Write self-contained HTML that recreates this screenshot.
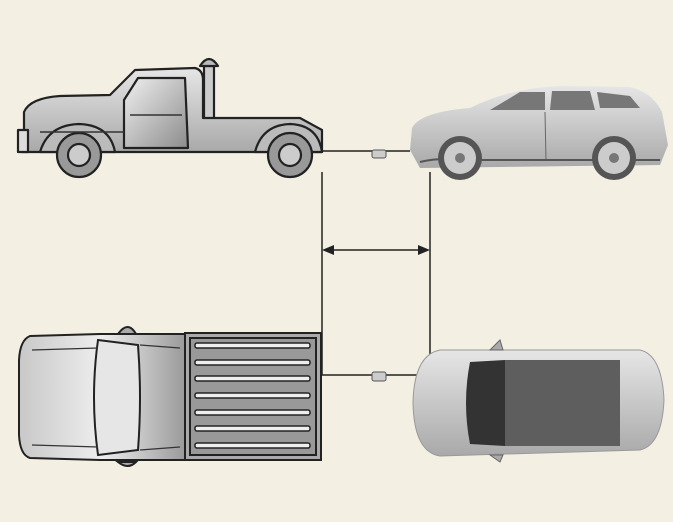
<!DOCTYPE html>
<html><head><style>html,body{margin:0;padding:0;background:#f3efe3}svg{display:block}</style></head>
<body>
<svg width="673" height="522" viewBox="0 0 673 522" xmlns="http://www.w3.org/2000/svg">
<defs>
<linearGradient id="g1" x1="0" y1="0" x2="0" y2="1"><stop offset="0" stop-color="#e6e6e6"/><stop offset="1" stop-color="#a9a9a9"/></linearGradient>
<linearGradient id="g2" x1="0" y1="0" x2="1" y2="0"><stop offset="0" stop-color="#c8c8c8"/><stop offset=".5" stop-color="#eee"/><stop offset="1" stop-color="#9a9a9a"/></linearGradient>
<linearGradient id="g3" x1="0" y1="0" x2="1" y2="1"><stop offset="0" stop-color="#f0f0f0"/><stop offset="1" stop-color="#8c8c8c"/></linearGradient>
</defs>
<rect width="673" height="522" fill="#f3efe3"/>
<!-- tow truck side -->
<g stroke="#222" stroke-width="2.2" stroke-linejoin="round">
<rect x="204" y="66" width="10" height="54" fill="#ccc"/>
<path d="M200 66 Q209 52 218 66 Z" fill="#bbb"/>
<path d="M24 135 L24 112 Q30 98 60 96 L110 95 L135 70 L195 68 Q203 70 203 80 L203 118 L300 118 L322 130 L322 152 L22 152 Z" fill="url(#g1)"/>
<rect x="18" y="130" width="10" height="22" fill="#ddd"/>
<path d="M124 100 L138 78 L185 78 L188 148 L124 148 Z" fill="url(#g3)"/>
<path d="M40 152 Q48 125 79 124 Q110 125 115 152 Z" fill="#bbb"/>
<path d="M255 152 Q262 125 290 124 Q318 125 322 152 Z" fill="#bbb"/>
<circle cx="79" cy="155" r="22" fill="#999"/><circle cx="79" cy="155" r="11" fill="#ccc"/>
<circle cx="290" cy="155" r="22" fill="#999"/><circle cx="290" cy="155" r="11" fill="#ccc"/>
</g>
<line x1="40" y1="132" x2="124" y2="132" stroke="#333" stroke-width="1.5"/>
<line x1="130" y1="115" x2="182" y2="115" stroke="#333" stroke-width="1.5"/>
<!-- connector top -->
<line x1="322" y1="151" x2="410" y2="151" stroke="#222" stroke-width="1.5"/>
<rect x="372" y="150" width="14" height="8" rx="2" fill="#ccc" stroke="#555"/>
<!-- SUV side -->
<path d="M412 128 Q420 112 470 108 Q510 88 560 86 L630 87 Q652 92 662 112 L668 145 L660 165 L420 168 L410 150 Z" fill="url(#g1)"/>
<path d="M490 110 L520 92 L545 92 L545 110 Z M550 110 L552 91 L590 91 L595 110 Z M600 108 L597 92 L630 96 L640 108 Z" fill="#777"/>
<line x1="545" y1="112" x2="546" y2="160" stroke="#666"/>
<path d="M420 162 Q440 157 470 160 L660 160" fill="none" stroke="#555" stroke-width="2"/>
<circle cx="460" cy="158" r="22" fill="#555"/><circle cx="460" cy="158" r="16" fill="#ccc"/><circle cx="460" cy="158" r="5" fill="#777"/>
<circle cx="614" cy="158" r="22" fill="#555"/><circle cx="614" cy="158" r="16" fill="#ccc"/><circle cx="614" cy="158" r="5" fill="#777"/>
<!-- dimension lines -->
<g stroke="#222" stroke-width="1.5">
<line x1="322" y1="172" x2="322" y2="375"/>
<line x1="430" y1="172" x2="430" y2="360"/>
<line x1="326" y1="250" x2="426" y2="250"/>
</g>
<path d="M322 250 L334 245 L334 255 Z M430 250 L418 245 L418 255 Z" fill="#222"/>
<!-- truck top -->
<g stroke="#222" stroke-width="2">
<path d="M118 462 Q128 470 136 462 Z" fill="#aaa"/>
<path d="M118 334 Q128 320 136 334 Z" fill="#aaa"/>
<path d="M30 336 Q20 340 19 360 L19 435 Q20 455 30 458 L100 460 L185 460 L185 334 L100 334 Z" fill="url(#g2)"/>
<path d="M98 340 L138 345 Q142 397 138 450 L98 455 Q90 397 98 340 Z" fill="#e6e6e6"/>
<rect x="185" y="333" width="136" height="127" fill="#aaa"/>
<rect x="190" y="338" width="126" height="117" fill="#999"/>
</g>
<g stroke="#333" stroke-width="1.2" fill="none">
<path d="M32 350 L98 348 M32 445 L98 447 M140 345 L180 348 M140 450 L180 447"/>
</g>
<g fill="#eee" stroke="#222" stroke-width="1.5">
<rect x="195" y="343" width="115" height="5" rx="2"/><rect x="195" y="360" width="115" height="5" rx="2"/>
<rect x="195" y="376" width="115" height="5" rx="2"/><rect x="195" y="393" width="115" height="5" rx="2"/>
<rect x="195" y="410" width="115" height="5" rx="2"/><rect x="195" y="426" width="115" height="5" rx="2"/>
<rect x="195" y="443" width="115" height="5" rx="2"/>
</g>
<!-- connector bottom -->
<line x1="322" y1="375" x2="418" y2="375" stroke="#222" stroke-width="1.5"/>
<rect x="372" y="372" width="14" height="9" rx="2" fill="#ccc" stroke="#555"/>
<!-- SUV top -->
<path d="M440 350 L640 350 Q662 355 664 400 Q662 445 640 450 L440 456 Q414 452 413 403 Q414 355 440 350 Z" fill="url(#g1)" stroke="#999"/>
<path d="M470 362 Q462 403 470 444 L505 446 L505 360 Z" fill="#333"/>
<rect x="505" y="360" width="115" height="86" fill="#5e5e5e"/>
<path d="M490 350 L500 340 L503 350 Z M490 455 L500 462 L503 455 Z" fill="#aaa" stroke="#666"/>
</svg>
</body></html>
